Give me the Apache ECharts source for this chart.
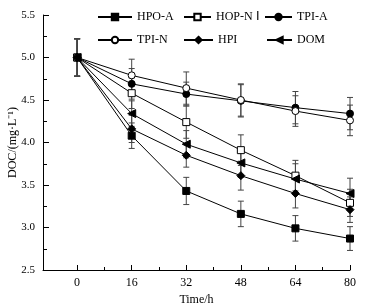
<!DOCTYPE html>
<html>
<head>
<meta charset="utf-8">
<script src="https://cdn.jsdelivr.net/npm/echarts@6/dist/echarts.min.js"></script>
<style>html,body{margin:0;padding:0;background:#fff}#main{width:369px;height:307px}</style>
</head>
<body>
<div id="main"></div>
<script>
// DOC degradation over time
var times = [0, 16, 32, 48, 64, 80]
var majorTicks = [0, 16, 32, 48, 64, 80]
var minorTicks = [8, 24, 40, 56, 72]

var hpoA = [5.0, 4.08, 3.43, 3.16, 2.99, 2.87]
var hopN = [5.0, 4.58, 4.24, 3.91, 3.61, 3.29]
var tpiA = [5.0, 4.69, 4.57, 4.49, 4.41, 4.34]
var tpiN = [5.0, 4.79, 4.64, 4.50, 4.37, 4.26]
var hpi  = [5.0, 4.16, 3.85, 3.61, 3.40, 3.21]
var dom  = [5.0, 4.34, 3.98, 3.76, 3.57, 3.40]

var hpoAErr = [0.22, 0.15, 0.16, 0.15, 0.15, 0.14]
var hopNErr = [0.22, 0.18, 0.19, 0.18, 0.18, 0.16]
var tpiAErr = [0.22, 0.18, 0.14, 0.19, 0.19, 0.19]
var tpiNErr = [0.22, 0.19, 0.19, 0.19, 0.18, 0.18]
var hpiErr  = [0.22, 0.16, 0.14, 0.17, 0.17, 0.15]
var domErr  = [0.22, 0.15, 0.16, 0.17, 0.18, 0.18]

var names = ['HPO-A', 'HOP-N Ⅰ', 'TPI-A', 'TPI-N', 'HPI', 'DOM']
var vals = [hpoA, hopN, tpiA, tpiN, hpi, dom]
var errs = [hpoAErr, hopNErr, tpiAErr, tpiNErr, hpiErr, domErr]
var symbols = ['rect', 'rect', 'circle', 'circle', 'diamond', 'triangle']
var hollow = [false, true, false, true, false, false]
var sizes = [7, 7, 7, 7, 8, 8]
var rots = [0, 0, 0, 0, 0, 90]
var legendPos = [[97, 11], [183, 11], [264, 11], [97, 34], [183, 34], [266, 34]]
var legendW = [34, 27, 27, 34, 29, 25]

var font = 'Liberation Serif'
var series = []
var legends = []
names.forEach(function (n, i) {
  series.push({
    name: n,
    type: 'line',
    data: times.map(function (t, j) { return [t, vals[i][j]] }),
    symbol: symbols[i],
    symbolSize: sizes[i],
    symbolRotate: rots[i],
    lineStyle: {color: '#000', width: 1},
    itemStyle: {color: hollow[i] ? '#fff' : '#000', borderColor: '#000', borderWidth: 1},
    z: 3
  })
  series.push({
    type: 'custom',
    data: times.map(function (t, j) { return [t, vals[i][j] - errs[i][j], vals[i][j] + errs[i][j]] }),
    renderItem: function (params, api) {
      var lo = api.coord([api.value(0), api.value(1)])
      var hi = api.coord([api.value(0), api.value(2)])
      var w = 3
      return {
        type: 'group',
        children: [
          {type: 'line', shape: {x1: lo[0], y1: lo[1], x2: hi[0], y2: hi[1]}, style: {stroke: '#444', lineWidth: 1}},
          {type: 'line', shape: {x1: lo[0] - w, y1: lo[1], x2: lo[0] + w, y2: lo[1]}, style: {stroke: '#444', lineWidth: 1}},
          {type: 'line', shape: {x1: hi[0] - w, y1: hi[1], x2: hi[0] + w, y2: hi[1]}, style: {stroke: '#444', lineWidth: 1}}
        ]
      }
    },
    encode: {x: 0, y: [1, 2]},
    z: 2,
    silent: true
  })
  legends.push({
    data: [n],
    left: legendPos[i][0],
    top: legendPos[i][1],
    itemWidth: legendW[i],
    itemHeight: 8,
    itemGap: 2,
    padding: 0,
    selectedMode: false,
    textStyle: {fontFamily: font, fontSize: 12, color: '#000'}
  })
})

var myChart = echarts.init(document.getElementById('main'))
myChart.setOption({
  backgroundColor: '#fff',
  animation: false,
  legend: legends,
  grid: {left: 43, top: 15, right: 19, bottom: 37, outerBoundsMode: 'none', containLabel: false},
  xAxis: [
    {
      type: 'value', min: -10, max: 80,
      name: 'Time/h', nameLocation: 'middle', nameGap: 24,
      nameTextStyle: {fontFamily: font, fontSize: 12, color: '#000'},
      axisLine: {onZero: false, lineStyle: {color: '#000', width: 1}},
      axisTick: {inside: true, length: 5, customValues: majorTicks, lineStyle: {color: '#000'}},
      axisLabel: {customValues: majorTicks, fontFamily: font, fontSize: 12, color: '#000', margin: 7},
      splitLine: {show: false}
    },
    {
      type: 'value', min: -10, max: 80, position: 'bottom',
      axisLine: {show: false, onZero: false},
      axisTick: {inside: true, length: 3, customValues: minorTicks, lineStyle: {color: '#000'}},
      axisLabel: {show: false},
      splitLine: {show: false}
    }
  ],
  yAxis: [
    {
      type: 'value', min: 2.5, max: 5.5, interval: 0.5, position: 'left',
      name: 'DOC/(mg·L⁻¹)', nameLocation: 'middle', nameGap: 24, nameMoveOverlap: false,
      nameTextStyle: {fontFamily: font, fontSize: 12, color: '#000'},
      axisLine: {show: true, onZero: false, lineStyle: {color: '#000', width: 1}},
      axisTick: {show: true, inside: true, length: 6, lineStyle: {color: '#000'}},
      axisLabel: {fontFamily: font, fontSize: 11, color: '#000', margin: 8, formatter: function (v) { return v.toFixed(1) }},
      splitLine: {show: false}
    },
    {
      type: 'value', min: 2.5, max: 5.5, interval: 0.25, position: 'left',
      axisLine: {show: false, onZero: false},
      axisTick: {show: true, inside: true, length: 4, lineStyle: {color: '#000'}},
      axisLabel: {show: false},
      splitLine: {show: false}
    }
  ],
  series: series
})
</script>
</body>
</html>
